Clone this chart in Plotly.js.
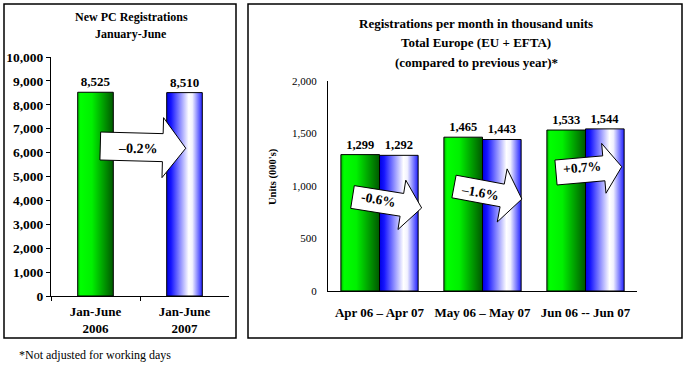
<!DOCTYPE html>
<html>
<head>
<meta charset="utf-8">
<script src="https://cdn.plot.ly/plotly-3.0.1.min.js"></script>
<style>
html,body{margin:0;padding:0;background:#fff;}
#chart{width:688px;height:369px;}
</style>
</head>
<body>
<div id="chart"></div>
<script>
// ---- data ----
const leftCategories = ['Jan-June<br>2006', 'Jan-June<br>2007'];
const leftValues = [8525, 8510];
const rightCategories = ['Apr 06 \u2013 Apr 07', 'May 06 \u2013 May 07', 'Jun 06 -- Jun 07'];
const values2006 = [1299, 1465, 1533];
const values2007 = [1292, 1443, 1544];
const changeLabels = ['\u20130.2%', '-0.6%', '\u20131.6%', '+0.7%'];
const leftTitleLines = ['New PC Registrations', 'January-June'];
const rightTitleLines = ['Registrations per month in thousand units', 'Total Europe (EU + EFTA)', '(compared to previous year)*'];
const footnote = '*Not adjusted for working days';

// ---- styling helpers ----
const W = 688, H = 369;
const SERIF = '"Liberation Serif", "Times New Roman", Times, serif';
const GREEN = '#00cc00', BLUE = '#3333ff';
function px(x) { return x / W; }
function py(y) { return 1 - y / H; }

function arrowPath(tx, ty, deg, L, Hh, s, h) {
  const t = deg * Math.PI / 180, c = Math.cos(t), sn = Math.sin(t);
  const pts = [[0, -s], [L - Hh, -s], [L - Hh, -h], [L, 0], [L - Hh, h], [L - Hh, s], [0, s]];
  return pts.map((p, i) => {
    const X = tx + p[0] * c - p[1] * sn;
    const Y = ty + p[0] * sn + p[1] * c;
    return (i === 0 ? 'M' : 'L') + px(X).toFixed(5) + ',' + py(Y).toFixed(5);
  }).join(' ') + ' Z';
}

const arrows = [
  {tail: [100.3, 146], deg: 1.5, L: 85.5, Hh: 23, s: 14, h: 30, text: [138, 148], angle: 1, size: 14},
  {tail: [352.5, 197], deg: 9, L: 70, Hh: 20, s: 11.5, h: 25, text: [378, 200], angle: 10, size: 13.5},
  {tail: [454, 186.5], deg: 10.5, L: 69, Hh: 20, s: 11.5, h: 27, text: [480, 192], angle: 10, size: 13.5},
  {tail: [556, 172.5], deg: -5, L: 66, Hh: 18, s: 12.5, h: 25, text: [582, 167], angle: -5, size: 13.5}
];

const traces = [
  {
    type: 'bar', x: leftCategories, y: leftValues, xaxis: 'x', yaxis: 'y',
    width: 0.4,
    marker: {color: [GREEN, BLUE], line: {color: '#000', width: 1}},
    texttemplate: '%{y:,}', textposition: 'outside',
    textfont: {family: SERIF, size: 13, weight: 'bold', color: '#000'},
    constraintext: 'none', cliponaxis: false, showlegend: false, hoverinfo: 'skip'
  },
  {
    type: 'bar', name: '2006', x: rightCategories, y: values2006, xaxis: 'x2', yaxis: 'y2',
    marker: {color: GREEN, line: {color: '#000', width: 1}},
    texttemplate: '%{y:,}', textposition: 'outside',
    textfont: {family: SERIF, size: 12.5, weight: 'bold', color: '#000'},
    constraintext: 'none', cliponaxis: false, showlegend: false, hoverinfo: 'skip'
  },
  {
    type: 'bar', name: '2007', x: rightCategories, y: values2007, xaxis: 'x2', yaxis: 'y2',
    marker: {color: BLUE, line: {color: '#000', width: 1}},
    texttemplate: '%{y:,}', textposition: 'outside',
    textfont: {family: SERIF, size: 12.5, weight: 'bold', color: '#000'},
    constraintext: 'none', cliponaxis: false, showlegend: false, hoverinfo: 'skip'
  }
];

const shapes = [
  {type: 'rect', xref: 'paper', yref: 'paper', x0: px(4), x1: px(236), y0: py(338), y1: py(4), line: {color: '#000', width: 1.5}, layer: 'below'},
  {type: 'rect', xref: 'paper', yref: 'paper', x0: px(248), x1: px(682), y0: py(338), y1: py(4), line: {color: '#000', width: 1.5}, layer: 'below'}
];
arrows.forEach(a => {
  shapes.push({type: 'path', xref: 'paper', yref: 'paper',
    path: arrowPath(a.tail[0], a.tail[1], a.deg, a.L, a.Hh, a.s, a.h),
    fillcolor: '#fff', line: {color: '#000', width: 1}, layer: 'above'});
});

const annotations = [];
leftTitleLines.forEach((t, i) => annotations.push({
  xref: 'paper', yref: 'paper', x: px(131), y: py(17 + i * 17), text: t, showarrow: false,
  xanchor: 'center', yanchor: 'middle', font: {family: SERIF, size: 12, weight: 'bold', color: '#000'}
}));
rightTitleLines.forEach((t, i) => annotations.push({
  xref: 'paper', yref: 'paper', x: px(476), y: py(23 + i * 19.8), text: t, showarrow: false,
  xanchor: 'center', yanchor: 'middle', font: {family: SERIF, size: 13, weight: 'bold', color: '#000'}
}));
annotations.push({
  xref: 'paper', yref: 'paper', x: px(273), y: py(177), text: "Units (000's)", showarrow: false,
  textangle: -90, xanchor: 'center', yanchor: 'middle', font: {family: SERIF, size: 10.5, weight: 'bold', color: '#000'}
});
annotations.push({
  xref: 'paper', yref: 'paper', x: px(17), y: py(355), text: footnote, showarrow: false,
  xanchor: 'left', yanchor: 'middle', font: {family: SERIF, size: 12, color: '#000'}
});
arrows.forEach((a, i) => annotations.push({
  xref: 'paper', yref: 'paper', x: px(a.text[0]), y: py(a.text[1]), text: changeLabels[i], showarrow: false,
  textangle: a.angle, xanchor: 'center', yanchor: 'middle', font: {family: SERIF, size: a.size, weight: 'bold', color: '#000'}
}));

const layout = {
  width: W, height: H,
  margin: {l: 0, r: 0, t: 0, b: 0, pad: 0},
  paper_bgcolor: '#fff', plot_bgcolor: 'rgba(0,0,0,0)',
  barmode: 'group', bargap: 0.25, bargroupgap: 0,
  showlegend: false,
  font: {family: SERIF, color: '#000'},
  xaxis: {
    domain: [px(51), px(229)], anchor: 'y', type: 'category',
    showline: true, linecolor: '#000', linewidth: 1,
    ticks: 'outside', tickson: 'boundaries', ticklen: 4, tickcolor: '#000', ticklabelstandoff: 3,
    tickfont: {family: SERIF, size: 13, weight: 'bold', color: '#000'},
    showgrid: false, zeroline: false, fixedrange: true
  },
  yaxis: {
    domain: [py(296), py(57)], anchor: 'x', range: [0, 10000], dtick: 1000, tickformat: ',d',
    showline: true, linecolor: '#000', linewidth: 1,
    ticks: 'outside', ticklen: 4, tickcolor: '#000',
    tickfont: {family: SERIF, size: 13.5, weight: 'bold', color: '#000'},
    showgrid: false, zeroline: false, fixedrange: true
  },
  xaxis2: {
    domain: [px(328), px(637)], anchor: 'y2', type: 'category',
    showline: true, linecolor: '#000', linewidth: 1,
    ticks: '', ticklabelstandoff: 9,
    tickfont: {family: SERIF, size: 13, weight: 'bold', color: '#000'},
    showgrid: false, zeroline: false, fixedrange: true
  },
  yaxis2: {
    domain: [py(291), py(81)], anchor: 'x2', range: [0, 2000], dtick: 500, tickformat: ',d',
    showline: true, linecolor: '#000', linewidth: 1,
    ticks: '', ticklabelstandoff: 8,
    tickfont: {family: SERIF, size: 11, color: '#000'},
    showgrid: false, zeroline: false, fixedrange: true
  },
  shapes: shapes,
  annotations: annotations
};

function addGradients(gd) {
  const svg = gd.querySelector('svg.main-svg');
  if (!svg) return;
  let defs = svg.querySelector('defs');
  const NS = 'http://www.w3.org/2000/svg';
  if (!defs) { defs = document.createElementNS(NS, 'defs'); svg.insertBefore(defs, svg.firstChild); }
  function grad(id, stops) {
    if (svg.querySelector('#' + id)) return;
    const g = document.createElementNS(NS, 'linearGradient');
    g.setAttribute('id', id);
    g.setAttribute('x1', '0'); g.setAttribute('y1', '0');
    g.setAttribute('x2', '1'); g.setAttribute('y2', '0');
    stops.forEach(s => {
      const st = document.createElementNS(NS, 'stop');
      st.setAttribute('offset', s[0]);
      st.setAttribute('stop-color', s[1]);
      g.appendChild(st);
    });
    defs.appendChild(g);
  }
  grad('gradGreen', [[0, '#00b400'], [0.08, '#00ff00'], [0.4, '#00f000'], [1, '#005800']]);
  grad('gradBlue', [[0, '#0000e0'], [0.12, '#1414ff'], [0.62, '#ffffff'], [0.72, '#f2f2ff'], [1, '#2020ff']]);
  gd.querySelectorAll('.barlayer .point path').forEach(p => {
    const f = p.style.fill.replace(/\s/g, '');
    if (f === 'rgb(0,204,0)') p.style.fill = 'url(#gradGreen)';
    else if (f === 'rgb(51,51,255)') p.style.fill = 'url(#gradBlue)';
  });
}

Plotly.newPlot('chart', traces, layout, {displayModeBar: false, staticPlot: true}).then(addGradients);
</script>
</body>
</html>
